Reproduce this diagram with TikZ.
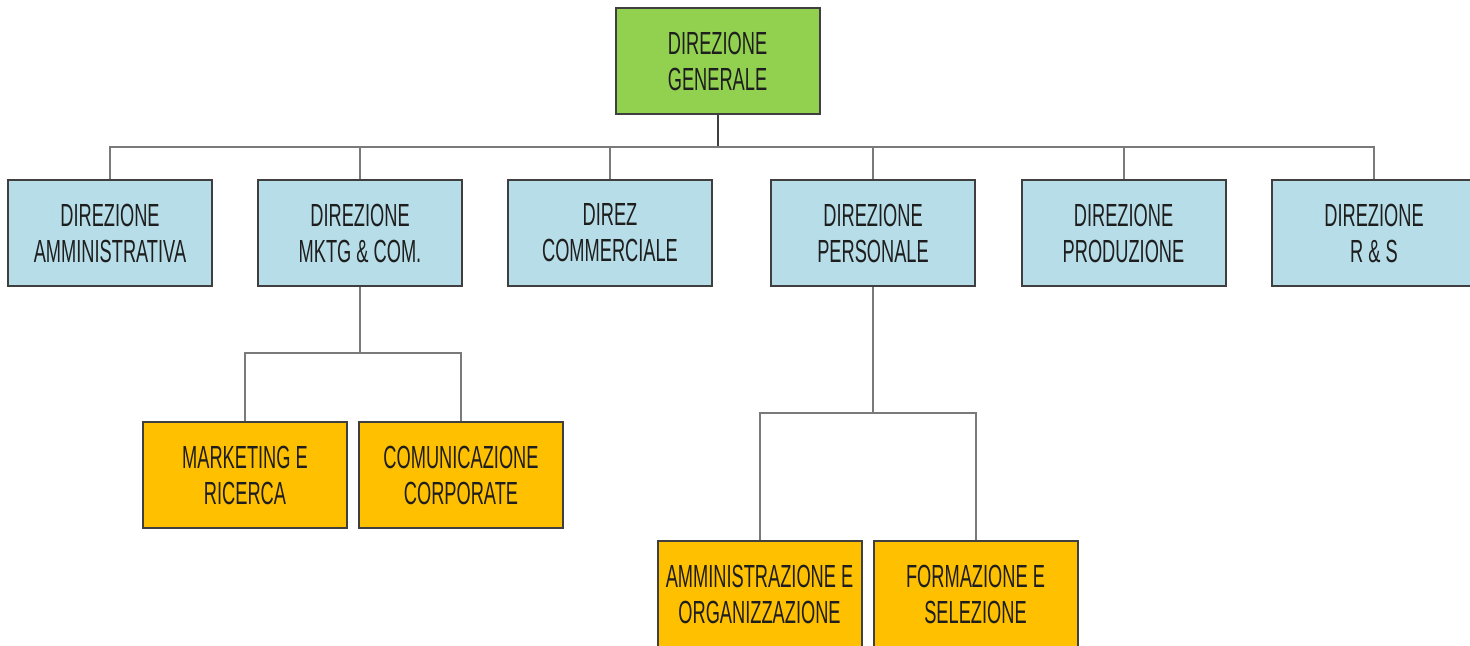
\documentclass[tikz,border=0pt]{standalone}
\usepackage{fontspec}
\setmainfont[FakeStretch=0.57]{Liberation Sans}
\definecolor{dgfill}{HTML}{92D050}
\definecolor{dirfill}{HTML}{B7DEE8}
\definecolor{subfill}{HTML}{FFC000}
\definecolor{edge}{HTML}{3F3F3F}
\definecolor{wire}{HTML}{7A7A7A}
\definecolor{ink}{HTML}{1E1E1E}
\begin{document}
\begin{tikzpicture}[x=0.5pt,y=-0.5pt,
  unit/.style={draw=edge,line width=1pt,minimum width=102pt,minimum height=53pt,
    inner sep=0pt,align=center,text=ink,font=\fontsize{16}{18}\selectfont},
  topbox/.style={unit,fill=dgfill},
  dirbox/.style={unit,fill=dirfill},
  subbox/.style={unit,fill=subfill},
  link/.style={draw=wire,line width=1pt}]
\useasboundingbox (0,0) rectangle (1470,646);
\clip (0,0) rectangle (1470,646);

% top management
\node[topbox] (dg) at (717.5,61) {DIREZIONE\\GENERALE};

% directorates
\node[dirbox] (amm) at (110,233) {DIREZIONE\\AMMINISTRATIVA};
\node[dirbox] (mkt) at (360,233) {DIREZIONE\\MKTG \& COM.};
\node[dirbox] (com) at (610,233) {DIREZ\\COMMERCIALE};
\node[dirbox] (per) at (873,233) {DIREZIONE\\PERSONALE};
\node[dirbox] (pro) at (1123.5,233) {DIREZIONE\\PRODUZIONE};
\node[dirbox] (rs)  at (1374,233) {DIREZIONE\\R \& S};

% offices
\node[subbox] (mr) at (245,475) {MARKETING E\\RICERCA};
\node[subbox] (cc) at (461,475) {COMUNICAZIONE\\CORPORATE};
\node[subbox] (ao) at (759.5,594) {AMMINISTRAZIONE E\\ORGANIZZAZIONE};
\node[subbox] (fs) at (975.5,594) {FORMAZIONE E\\SELEZIONE};

% connectors
\coordinate (bus) at (0,147);
\coordinate (mbus) at (0,353);
\coordinate (pbus) at (0,413);

\draw[link,draw=edge] (dg.south) -- (dg.south |- bus);
\draw[link] (amm.north) -- (amm.north |- bus) -- (rs.north |- bus) -- (rs.north);
\foreach \n in {mkt,com,per,pro}
  \draw[link] (\n.north) -- (\n.north |- bus);

\draw[link] (mkt.south) -- (mkt.south |- mbus);
\draw[link] (mr.north) -- (mr.north |- mbus) -- (cc.north |- mbus) -- (cc.north);

\draw[link] (per.south) -- (per.south |- pbus);
\draw[link] (ao.north) -- (ao.north |- pbus) -- (fs.north |- pbus) -- (fs.north);
\end{tikzpicture}
\end{document}
